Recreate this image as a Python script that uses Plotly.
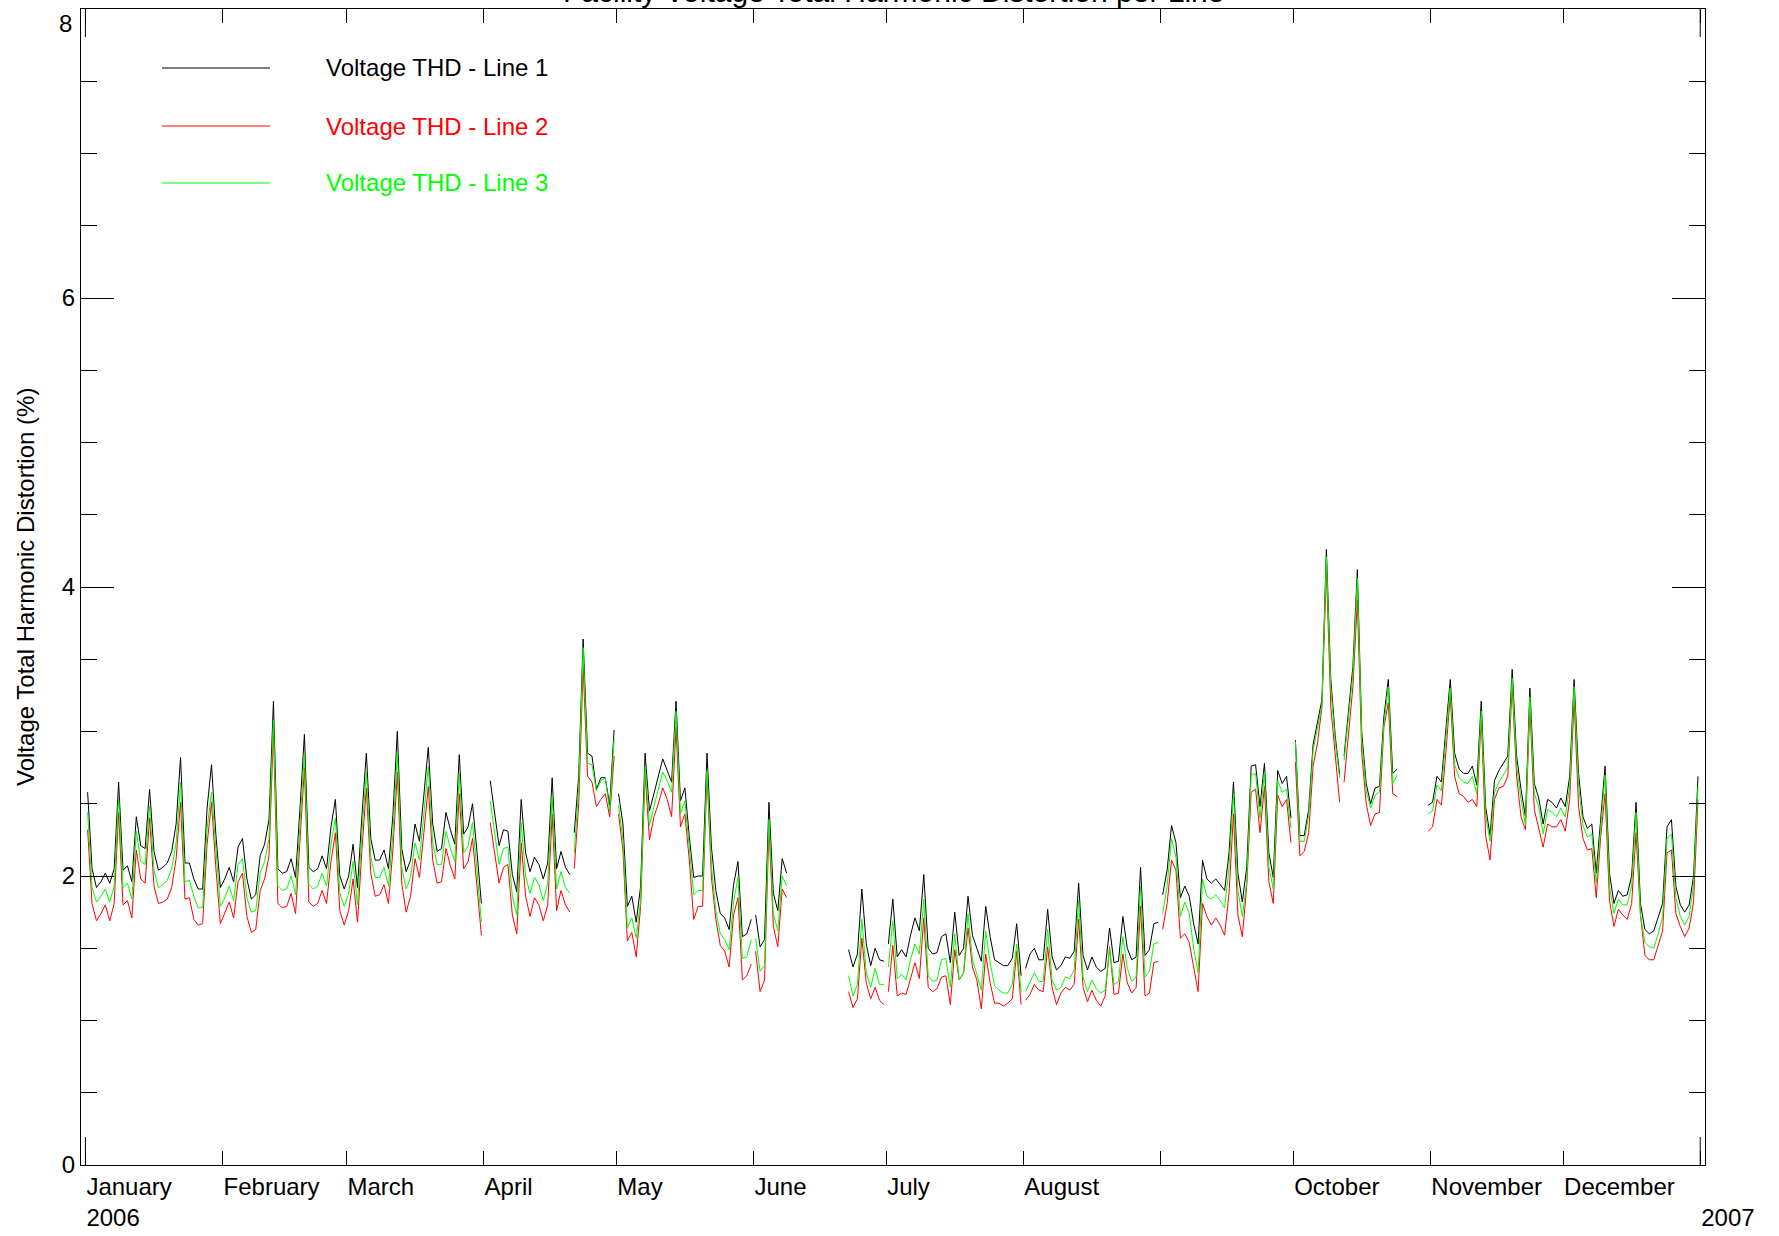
import pandas as pd
import plotly.graph_objects as go

START = "2006-01-01"

# Voltage THD - Line 1 (black), daily values 2006 (None = no data)
line1 = [
    2.58, 2.05, 1.92, 1.96, 2.02, 1.95, 2.05, 2.65, 2.04, 2.07,
    1.96, 2.41, 2.21, 2.19, 2.60, 2.17, 2.04, 2.06, 2.09, 2.17,
    2.36, 2.82, 2.09, 2.09, 1.98, 1.91, 1.91, 2.47, 2.77, 2.28,
    1.92, 1.98, 2.06, 1.96, 2.20, 2.26, 1.98, 1.84, 1.87, 2.14,
    2.22, 2.39, 3.21, 2.05, 2.02, 2.03, 2.12, 1.99, 2.47, 2.98,
    2.06, 2.03, 2.05, 2.14, 2.05, 2.34, 2.53, 2.00, 1.91, 2.00,
    2.22, 1.92, 2.42, 2.85, 2.26, 2.11, 2.11, 2.18, 2.05, 2.42,
    3.00, 2.19, 2.03, 2.11, 2.36, 2.24, 2.56, 2.89, 2.36, 2.17,
    2.19, 2.44, 2.32, 2.22, 2.84, 2.29, 2.34, 2.50, 2.17, 1.81,
    None, 2.66, 2.43, 2.21, 2.32, 2.31, 2.01, 1.89, 2.53, 2.16,
    2.03, 2.13, 2.08, 1.98, 2.09, 2.68, 2.05, 2.17, 2.06, 2.01,
    2.30, 2.69, 3.64, 2.85, 2.83, 2.60, 2.68, 2.68, 2.49, 3.01,
    2.57, 2.36, 1.79, 1.86, 1.68, 1.93, 2.85, 2.45, 2.57, 2.69,
    2.81, 2.73, 2.65, 3.21, 2.52, 2.61, 2.27, 1.99, 2.00, 2.00,
    2.85, 2.20, 1.90, 1.74, 1.71, 1.63, 1.94, 2.10, 1.58, 1.60,
    1.70, 1.73, 1.51, 1.56, 2.51, 1.88, 1.76, 2.12, 2.02, None,
    None, None, None, None, None, None, None, None, None, None,
    None, None, 1.49, 1.37, 1.46, 1.91, 1.53, 1.38, 1.50, 1.42,
    1.41, 1.53, 1.84, 1.44, 1.49, 1.44, 1.59, 1.71, 1.62, 2.01,
    1.50, 1.46, 1.47, 1.58, 1.60, 1.40, 1.75, 1.45, 1.50, 1.86,
    1.59, 1.50, 1.41, 1.79, 1.58, 1.42, 1.40, 1.38, 1.38, 1.43,
    1.67, 1.31, 1.36, 1.46, 1.50, 1.42, 1.42, 1.77, 1.44, 1.35,
    1.38, 1.44, 1.43, 1.48, 1.95, 1.45, 1.35, 1.44, 1.37, 1.34,
    1.36, 1.64, 1.40, 1.41, 1.72, 1.50, 1.42, 1.44, 2.06, 1.45,
    1.49, 1.67, 1.68, 1.87, 2.04, 2.35, 2.23, 1.85, 1.93, 1.86,
    1.67, 1.53, 2.11, 1.98, 1.95, 1.98, 1.94, 1.90, 2.16, 2.65,
    2.02, 1.82, 2.06, 2.76, 2.77, 2.48, 2.78, 2.16, 1.99, 2.73,
    2.64, 2.69, 2.40, 2.94, 2.28, 2.28, 2.46, 2.91, 3.06, 3.22,
    4.26, 3.36, 2.97, 2.70, 2.83, 3.15, 3.45, 4.12, 2.99, 2.64,
    2.50, 2.61, 2.62, 3.10, 3.36, 2.71, 2.74, None, None, None,
    None, None, None, 2.49, 2.51, 2.69, 2.65, 3.01, 3.36, 2.85,
    2.74, 2.71, 2.71, 2.76, 2.63, 3.21, 2.48, 2.28, 2.66, 2.73,
    2.78, 2.83, 3.43, 2.83, 2.60, 2.41, 3.30, 2.64, 2.54, 2.36,
    2.53, 2.51, 2.47, 2.54, 2.48, 2.69, 3.36, 2.71, 2.41, 2.33,
    2.36, 2.02, 2.39, 2.76, 2.02, 1.81, 1.90, 1.86, 1.87, 2.00,
    2.51, 1.81, 1.63, 1.60, 1.62, 1.71, 1.81, 2.34, 2.39, 1.93,
    1.80, 1.75, 1.80, 2.00, 2.69,
]

# Voltage THD - Line 2 (red)
line2 = [
    2.32, 1.81, 1.69, 1.74, 1.80, 1.69, 1.81, 2.44, 1.80, 1.83,
    1.71, 2.18, 1.98, 1.95, 2.40, 1.93, 1.81, 1.82, 1.84, 1.92,
    2.12, 2.51, 1.84, 1.85, 1.70, 1.66, 1.67, 2.22, 2.51, 2.05,
    1.67, 1.74, 1.82, 1.71, 1.96, 2.02, 1.72, 1.61, 1.63, 1.90,
    1.98, 2.14, 3.00, 1.81, 1.78, 1.79, 1.88, 1.74, 2.22, 2.75,
    1.82, 1.79, 1.81, 1.90, 1.81, 2.10, 2.30, 1.76, 1.66, 1.76,
    1.98, 1.68, 2.18, 2.61, 2.02, 1.86, 1.87, 1.94, 1.81, 2.18,
    2.72, 1.95, 1.75, 1.86, 2.12, 1.99, 2.30, 2.62, 2.11, 1.95,
    1.96, 2.19, 2.07, 1.98, 2.57, 2.05, 2.10, 2.26, 1.93, 1.59,
    None, 2.37, 2.17, 1.95, 2.06, 2.08, 1.73, 1.60, 2.23, 1.86,
    1.72, 1.85, 1.80, 1.69, 1.80, 2.43, 1.76, 1.90, 1.80, 1.75,
    2.05, 2.50, 3.45, 2.69, 2.65, 2.48, 2.53, 2.57, 2.41, 2.83,
    2.43, 2.18, 1.55, 1.61, 1.44, 1.79, 2.71, 2.25, 2.41, 2.50,
    2.61, 2.53, 2.41, 3.03, 2.34, 2.43, 2.11, 1.70, 1.79, 1.79,
    2.71, 1.99, 1.70, 1.52, 1.48, 1.37, 1.73, 1.85, 1.28, 1.31,
    1.39, 1.48, 1.20, 1.28, 2.34, 1.65, 1.51, 1.91, 1.85, None,
    None, None, None, None, None, None, None, None, None, None,
    None, None, 1.20, 1.09, 1.15, 1.57, 1.26, 1.15, 1.23, 1.14,
    1.11, 1.20, 1.52, 1.17, 1.19, 1.18, 1.29, 1.40, 1.29, 1.71,
    1.23, 1.20, 1.22, 1.30, 1.31, 1.11, 1.49, 1.28, 1.33, 1.64,
    1.37, 1.28, 1.08, 1.46, 1.26, 1.12, 1.12, 1.10, 1.12, 1.15,
    1.48, 1.11, 1.14, 1.18, 1.25, 1.21, 1.20, 1.51, 1.23, 1.11,
    1.19, 1.23, 1.21, 1.25, 1.70, 1.23, 1.13, 1.21, 1.14, 1.10,
    1.17, 1.51, 1.18, 1.19, 1.46, 1.26, 1.19, 1.23, 1.79, 1.17,
    1.19, 1.40, 1.41, 1.63, 1.81, 2.11, 2.04, 1.57, 1.60, 1.54,
    1.37, 1.20, 1.81, 1.72, 1.66, 1.71, 1.66, 1.59, 1.88, 2.43,
    1.73, 1.58, 1.93, 2.58, 2.60, 2.30, 2.62, 1.96, 1.81, 2.56,
    2.48, 2.53, 2.23, 2.79, 2.14, 2.17, 2.30, 2.76, 2.92, 3.17,
    4.12, 3.17, 2.85, 2.51, 2.65, 2.99, 3.31, 3.91, 2.85, 2.50,
    2.35, 2.43, 2.44, 3.03, 3.20, 2.57, 2.55, None, None, None,
    None, None, None, 2.31, 2.34, 2.53, 2.49, 2.85, 3.25, 2.69,
    2.57, 2.55, 2.51, 2.53, 2.48, 3.10, 2.28, 2.11, 2.53, 2.61,
    2.62, 2.69, 3.31, 2.69, 2.41, 2.32, 3.17, 2.46, 2.33, 2.20,
    2.36, 2.34, 2.34, 2.39, 2.31, 2.53, 3.22, 2.48, 2.26, 2.18,
    2.19, 1.85, 2.27, 2.57, 1.83, 1.65, 1.77, 1.73, 1.70, 1.81,
    2.30, 1.73, 1.45, 1.42, 1.42, 1.52, 1.62, 2.16, 2.18, 1.74,
    1.65, 1.58, 1.64, 1.82, 2.53,
]

# Voltage THD - Line 3 (green)
line3 = [
    2.44, 1.92, 1.82, 1.86, 1.91, 1.82, 1.93, 2.54, 1.92, 1.95,
    1.84, 2.31, 2.10, 2.08, 2.48, 2.04, 1.92, 1.94, 1.97, 2.05,
    2.23, 2.65, 1.96, 1.97, 1.86, 1.78, 1.78, 2.33, 2.58, 2.15,
    1.79, 1.85, 1.93, 1.83, 2.08, 2.12, 1.85, 1.75, 1.76, 2.02,
    2.10, 2.26, 3.08, 1.93, 1.90, 1.91, 2.00, 1.87, 2.34, 2.85,
    1.94, 1.91, 1.93, 2.02, 1.93, 2.22, 2.40, 1.88, 1.79, 1.88,
    2.10, 1.80, 2.30, 2.72, 2.13, 1.99, 1.99, 2.06, 1.93, 2.29,
    2.85, 2.06, 1.91, 1.99, 2.23, 2.11, 2.43, 2.76, 2.23, 2.08,
    2.08, 2.31, 2.19, 2.10, 2.71, 2.16, 2.21, 2.37, 2.04, 1.68,
    None, 2.52, 2.30, 2.08, 2.19, 2.20, 1.86, 1.73, 2.37, 2.00,
    1.88, 1.99, 1.94, 1.83, 1.95, 2.55, 1.91, 2.03, 1.92, 1.88,
    2.16, 2.62, 3.58, 2.78, 2.77, 2.59, 2.66, 2.68, 2.45, 2.95,
    2.49, 2.25, 1.64, 1.71, 1.57, 1.83, 2.76, 2.35, 2.48, 2.60,
    2.72, 2.66, 2.58, 3.14, 2.43, 2.52, 2.17, 1.87, 1.90, 1.90,
    2.73, 2.07, 1.76, 1.60, 1.56, 1.49, 1.82, 1.99, 1.43, 1.44,
    1.56, 1.57, 1.34, 1.38, 2.39, 1.74, 1.62, 2.00, 1.93, None,
    None, None, None, None, None, None, None, None, None, None,
    None, None, 1.31, 1.17, 1.25, 1.70, 1.33, 1.23, 1.36, 1.25,
    1.25, 1.37, 1.69, 1.29, 1.32, 1.28, 1.42, 1.53, 1.46, 1.84,
    1.31, 1.27, 1.28, 1.42, 1.43, 1.23, 1.60, 1.28, 1.33, 1.74,
    1.42, 1.32, 1.21, 1.62, 1.40, 1.24, 1.21, 1.19, 1.19, 1.25,
    1.53, 1.20, 1.20, 1.27, 1.33, 1.27, 1.27, 1.63, 1.28, 1.21,
    1.23, 1.30, 1.29, 1.35, 1.83, 1.30, 1.20, 1.28, 1.22, 1.19,
    1.21, 1.50, 1.25, 1.27, 1.58, 1.36, 1.27, 1.30, 1.93, 1.30,
    1.34, 1.53, 1.54, 1.74, 1.93, 2.26, 2.13, 1.72, 1.82, 1.74,
    1.50, 1.33, 1.98, 1.86, 1.84, 1.87, 1.83, 1.78, 2.06, 2.57,
    1.90, 1.72, 1.96, 2.70, 2.71, 2.40, 2.72, 2.06, 1.91, 2.66,
    2.58, 2.60, 2.33, 2.93, 2.24, 2.24, 2.42, 2.87, 3.02, 3.18,
    4.21, 3.31, 2.93, 2.68, 2.80, 3.11, 3.40, 4.06, 2.94, 2.59,
    2.47, 2.56, 2.58, 3.05, 3.31, 2.64, 2.70, None, None, None,
    None, None, None, 2.43, 2.45, 2.63, 2.59, 2.95, 3.30, 2.77,
    2.68, 2.65, 2.64, 2.69, 2.57, 3.14, 2.42, 2.24, 2.58, 2.65,
    2.70, 2.75, 3.37, 2.76, 2.53, 2.35, 3.24, 2.57, 2.48, 2.29,
    2.46, 2.44, 2.41, 2.47, 2.41, 2.62, 3.31, 2.63, 2.35, 2.27,
    2.29, 1.95, 2.33, 2.70, 1.93, 1.74, 1.84, 1.80, 1.80, 1.93,
    2.44, 1.73, 1.54, 1.51, 1.50, 1.60, 1.72, 2.26, 2.29, 1.85,
    1.72, 1.66, 1.72, 1.94, 2.62,
]

# days after which the recording restarts (line is broken there)
break_after = ["2006-04-20", "2006-04-30", "2006-05-31", "2006-06-30",
               "2006-07-31", "2006-08-31", "2006-09-30", "2006-10-11"]

series_names = ["Voltage THD - Line 1", "Voltage THD - Line 2", "Voltage THD - Line 3"]
series_colors = ["#000000", "#ff0000", "#00ff00"]

month_ticks = ["2006-01-01", "2006-02-01", "2006-03-01", "2006-04-01", "2006-05-01",
               "2006-06-01", "2006-07-01", "2006-08-01", "2006-09-01", "2006-10-01",
               "2006-11-01", "2006-12-01", "2007-01-01"]
month_labels = ["January<br>2006", "February", "March", "April", "May", "June",
                "July", "August", "", "October", "November", "December", "<br>2007"]
year_ticks = ["2006-01-01", "2007-01-01"]

y_ticks = [0, 2, 4, 6, 8]
y_labels = ["0", "2", "4", "6", ""]   # the top "8" is placed just below the top edge

FONT = "Liberation Sans, Arial, Helvetica, sans-serif"
FS = 24

days = pd.date_range(START, periods=len(line1), freq="D")


def build(values):
    xs, ys = [], []
    for day, v in zip(days, values):
        xs.append(day + pd.Timedelta(hours=12))
        ys.append(v)
        if day.strftime("%Y-%m-%d") in break_after:
            xs.append(day + pd.Timedelta(hours=24))
            ys.append(None)
    return xs, ys


fig = go.Figure()
for name, vals, col in zip(series_names, [line1, line2, line3], series_colors):
    xs, ys = build(vals)
    fig.add_trace(go.Scatter(x=xs, y=ys, mode="lines", name=name,
                             line=dict(color=col, width=1), connectgaps=False))

W, H = 1779, 1236
ML, MR, MT, MB = 81, 74, 9, 71
PW, PH = W - ML - MR, H - MT - MB

fig.update_layout(
    width=W, height=H,
    margin=dict(l=ML, r=MR, t=MT, b=MB, pad=0, autoexpand=False),
    plot_bgcolor="white", paper_bgcolor="white",
    showlegend=False,
    font=dict(family=FONT, size=FS, color="black"),
)

fig.update_xaxes(
    type="date", range=["2005-12-31 00:00", "2007-01-02 02:00"],
    tickmode="array", tickvals=month_ticks, ticktext=month_labels,
    ticks="inside", ticklen=14, tickwidth=1, tickcolor="black",
    showline=True, linecolor="black", linewidth=1, mirror="allticks",
    showgrid=False, zeroline=False, ticklabelposition="outside right", tickangle=0,
    automargin=False, ticklabeloverflow="allow",
    tickfont=dict(family=FONT, size=FS, color="black"),
)
fig.update_yaxes(
    range=[0, 8], tickmode="array", tickvals=y_ticks, ticktext=y_labels,
    ticks="inside", ticklen=33, tickwidth=1, tickcolor="black",
    showline=True, linecolor="black", linewidth=1, mirror="allticks",
    showgrid=False, zeroline=False, automargin=False, ticklabeloverflow="allow",
    tickfont=dict(family=FONT, size=FS, color="black"),
    minor=dict(dtick=0.5, tick0=0, ticks="inside", ticklen=16, tickcolor="black",
               tickwidth=1, showgrid=False),
)

# top "8" label, kept inside the page
fig.add_annotation(text="8", xref="paper", yref="paper", x=0, y=1, xshift=-8,
                   xanchor="right", yanchor="top", showarrow=False, borderpad=0,
                   font=dict(family=FONT, size=FS, color="black"))

# longer year ticks (bottom and top)
yr_len = 28 / PH
for yt in year_ticks:
    fig.add_shape(type="line", xref="x", yref="paper", x0=yt, x1=yt, y0=0, y1=yr_len,
                  line=dict(color="black", width=1))
    fig.add_shape(type="line", xref="x", yref="paper", x0=yt, x1=yt, y0=1 - yr_len, y1=1,
                  line=dict(color="black", width=1))

# legend drawn in the plot area
leg_y_px = [68, 126, 183]
for name, col, py in zip(series_names, series_colors, leg_y_px):
    yp = (H - MB - py) / PH
    fig.add_shape(type="line", xref="paper", yref="paper",
                  x0=(162 - ML) / PW, x1=(270 - ML) / PW, y0=yp, y1=yp,
                  line=dict(color=col, width=1))
    fig.add_annotation(text=name, xref="paper", yref="paper", x=(324 - ML) / PW, y=yp,
                       xanchor="left", yanchor="middle", showarrow=False,
                       font=dict(family=FONT, size=FS, color=col))

# title (mostly above the top edge, as in the source)
fig.add_annotation(text="Facility Voltage Total Harmonic Distortion per Line",
                   xref="paper", yref="paper", x=0.5, y=1, xanchor="center",
                   yanchor="bottom", yshift=0, showarrow=False, borderpad=0,
                   font=dict(family=FONT, size=30, color="black"))

# y axis title
fig.add_annotation(text="Voltage Total Harmonic Distortion (%)",
                   xref="paper", yref="paper", x=(25 - ML) / PW, y=0.5,
                   xanchor="center", yanchor="middle", textangle=-90, showarrow=False,
                   font=dict(family=FONT, size=FS, color="black"))

fig.write_html("out.html", config={"displayModeBar": False},
               post_script="document.body.style.margin='0';document.body.style.overflow='hidden';")
